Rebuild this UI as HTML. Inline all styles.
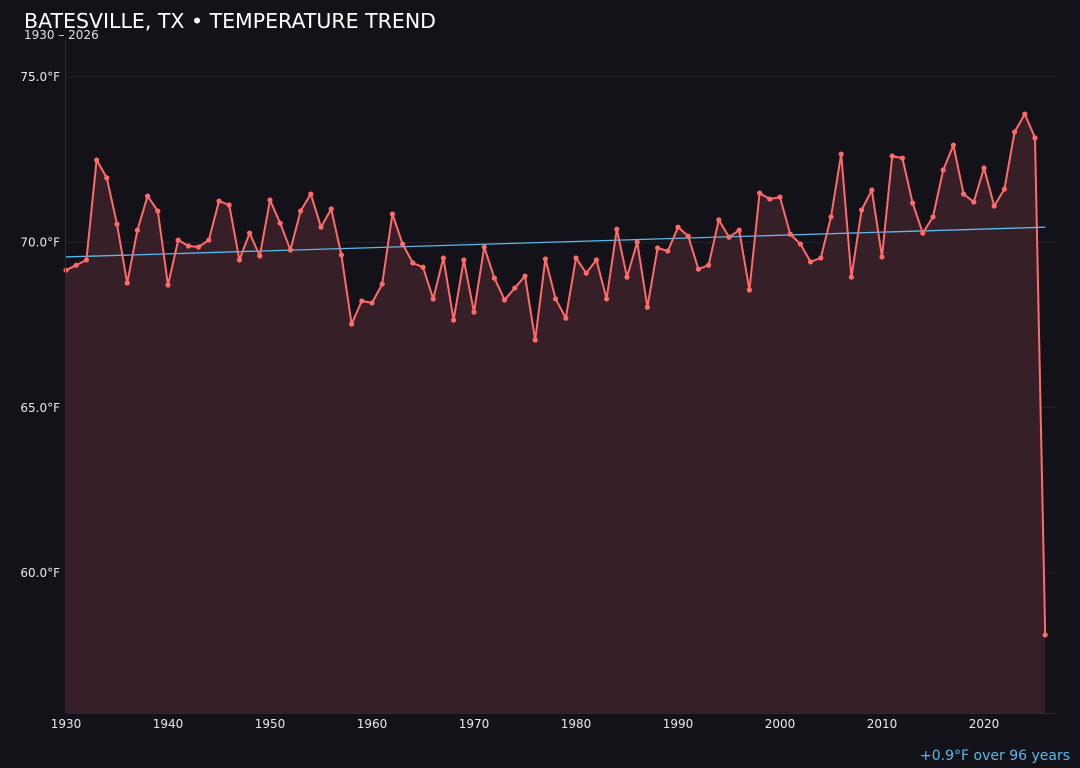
<!DOCTYPE html>
<html><head><meta charset="utf-8">
<style>
body{margin:0;background:#131218;font-family:"DejaVu Sans","Liberation Sans",sans-serif;}
svg{display:block}
</style></head>
<body>
<svg id="chart" width="1080" height="768">
<rect width="1080" height="768" fill="#131218"/>
<text x="24" y="28" fill="#ffffff" font-size="20.5">BATESVILLE, TX • TEMPERATURE TREND</text>
<text x="24" y="39" fill="#e0e0e0" font-size="12">1930 – 2026</text>
<g id="grid"></g><g id="area"></g><g id="marks"></g><g id="axes"></g>
<text x="1070" y="760" fill="#5bb8f0" font-size="14" text-anchor="end">+0.9°F over 96 years</text>
</svg>
<script>
const startYear = 1930;
const temps = [69.16,69.31,69.47,72.49,71.95,70.55,68.77,70.37,71.40,70.95,
68.71,70.07,69.89,69.86,70.07,71.25,71.13,69.47,70.28,69.59,
71.28,70.58,69.77,70.95,71.46,70.46,71.01,69.62,67.53,68.23,
68.17,68.74,70.86,69.95,69.38,69.25,68.29,69.53,67.65,69.47,
67.89,69.86,68.92,68.26,68.62,68.98,67.05,69.50,68.29,67.71,
69.53,69.07,69.47,68.29,70.40,68.95,70.01,68.04,69.83,69.74,
70.46,70.19,69.19,69.31,70.68,70.16,70.37,68.56,71.49,71.31,
71.37,70.25,69.95,69.41,69.53,70.77,72.67,68.95,70.98,71.58,
69.56,72.61,72.55,71.19,70.28,70.77,72.19,72.94,71.46,71.22,
72.25,71.10,71.61,73.34,73.88,73.16,58.13];
const years = temps.map((_, i) => startYear + i);
const trendValues = [69.56, 70.46];
const yTicks = [60, 65, 70, 75];
const yTickLabels = ["60.0°F", "65.0°F", "70.0°F", "75.0°F"];
const xTicks = [1930,1940,1950,1960,1970,1980,1990,2000,2010,2020];

const X0 = 66, PXY = 10.2, yMin = 55.77, yMax = 76.12, plotTop = 40, plotBot = 713;
const xs = y => X0 + (y - 1930) * PXY;
const ys = v => plotBot - (v - yMin) / (yMax - yMin) * (plotBot - plotTop);
const NS = "http://www.w3.org/2000/svg";
function mk(tag, attrs, parent) { const e = document.createElementNS(NS, tag); for (const k in attrs) e.setAttribute(k, attrs[k]); document.getElementById(parent).appendChild(e); return e; }

yTicks.forEach((t, i) => {
  const g = mk("line", {x1: 66, x2: 1056, y1: ys(t), y2: ys(t), stroke: "#25232a", "stroke-width": 1}, "grid");
  
  
  const l = mk("text", {x: 60, y: ys(t) + 4, fill: "#e8e8e8", "font-size": 12, "text-anchor": "end"}, "axes");
  l.textContent = yTickLabels[i];
  
  
});
xTicks.forEach(t => {
  const l = mk("text", {x: xs(t), y: 728, fill: "#e8e8e8", "font-size": 12, "text-anchor": "middle"}, "axes");
  l.textContent = t;
  
  
});
const ax = mk("line", {x1: 65.5, x2: 65.5, y1: plotTop, y2: plotBot, stroke: "#2a2830"}, "axes");


const bx = mk("line", {x1: 66, x2: 1056, y1: plotBot + 0.5, y2: plotBot + 0.5, stroke: "#2a2830"}, "axes");



const pts = years.map((y, i) => xs(y).toFixed(1) + "," + ys(temps[i]).toFixed(1));
const area = mk("polygon", {points: xs(years[0]) + "," + plotBot + " " + pts.join(" ") + " " + xs(years[years.length - 1]) + "," + plotBot, fill: "#361f26"}, "area");


const tr = mk("line", {x1: xs(years[0]), y1: ys(trendValues[0]), x2: xs(years[years.length - 1]), y2: ys(trendValues[1]), stroke: "#5bb8f0", "stroke-width": 1.3}, "marks");


const line = mk("polyline", {points: pts.join(" "), fill: "none", stroke: "#ff6b6b", "stroke-width": 2}, "marks");


years.forEach((y, i) => {
  const c = mk("circle", {cx: xs(y), cy: ys(temps[i]), r: 2.6, fill: "#ff6b6b"}, "marks");
  
  
});
</script>
</body></html>
